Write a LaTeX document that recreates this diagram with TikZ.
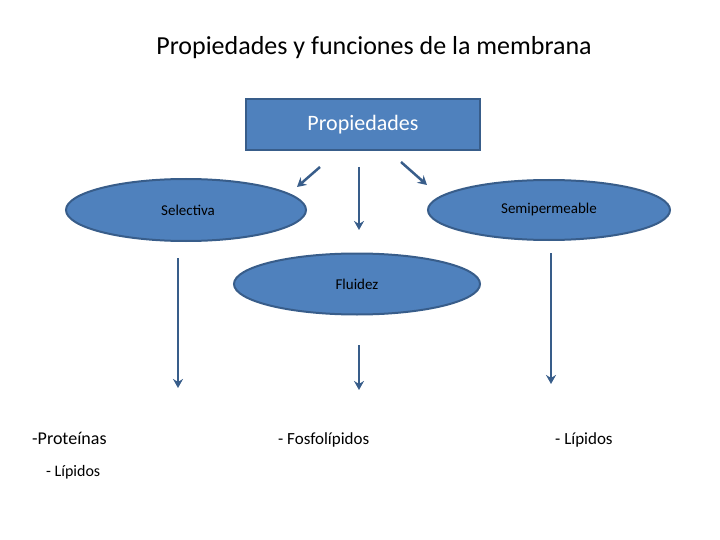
\documentclass[tikz,border=0pt]{standalone}
\usepackage{fontspec}
\setmainfont{Carlito}
\usetikzlibrary{shapes.geometric,arrows.meta}
\definecolor{fillb}{HTML}{4F81BD}
\definecolor{edgeb}{HTML}{385D8A}
\tikzset{
 ell/.style={ellipse,draw=edgeb,line width=2pt,fill=fillb,inner sep=0pt},
 arr/.style={draw=edgeb,line width=2.5pt,-{Stealth[length=9pt,width=10pt]}},
 txt/.style={inner sep=0pt,anchor=base west}
}
\begin{document}
\begin{tikzpicture}[x=1pt,y=-1pt]
\useasboundingbox (0,0) rectangle (720,540);
\node (title) at (374,48) {\fontsize{26}{30}\selectfont Propiedades y funciones de la membrana};
\node[draw=edgeb,line width=2pt,fill=fillb,minimum width=234pt,minimum height=51pt] (prop) at (363,125) {};
\node[text=white] at (prop) {\fontsize{22}{26}\selectfont Propiedades};
\node[ell,minimum width=240pt,minimum height=62pt] (sel) at (186,210) {};
\node at (188,210) {\fontsize{15}{18}\selectfont Selectiva};
\node[ell,minimum width=242pt,minimum height=60pt] (semi) at (549,210) {};
\node at (549,210) {\fontsize{15}{18}\selectfont Semipermeable};
\node[ell,minimum width=246pt,minimum height=61pt] (flu) at (357,284) {};
\node at (357,284) {\fontsize{15}{18}\selectfont Fluidez};
\coordinate (a1s) at (320,167); \coordinate (a1e) at (297,187);
\coordinate (a2s) at (359,167); \coordinate (a2e) at (359,230);
\coordinate (a3s) at (401,162); \coordinate (a3e) at (427,185);
\coordinate (b1s) at (178,258); \coordinate (b1e) at (178,388);
\coordinate (b2s) at (359,345); \coordinate (b2e) at (359,390);
\coordinate (b3s) at (551,253); \coordinate (b3e) at (551,384);
\foreach \s/\e in {a1s/a1e,a2s/a2e,a3s/a3e,b1s/b1e,b2s/b2e,b3s/b3e}
  \draw[arr] (\s) -- (\e);
\node[txt] (p1) at (32,444) {\fontsize{18}{20}\selectfont -Proteínas};
\node[txt] (p2) at (46,476) {\fontsize{16}{20}\selectfont - Lípidos};
\node[txt] (p3) at (278,444) {\fontsize{17}{20}\selectfont - Fosfolípidos};
\node[txt] (p4) at (555,444) {\fontsize{17}{20}\selectfont - Lípidos};
\end{tikzpicture}
\end{document}
